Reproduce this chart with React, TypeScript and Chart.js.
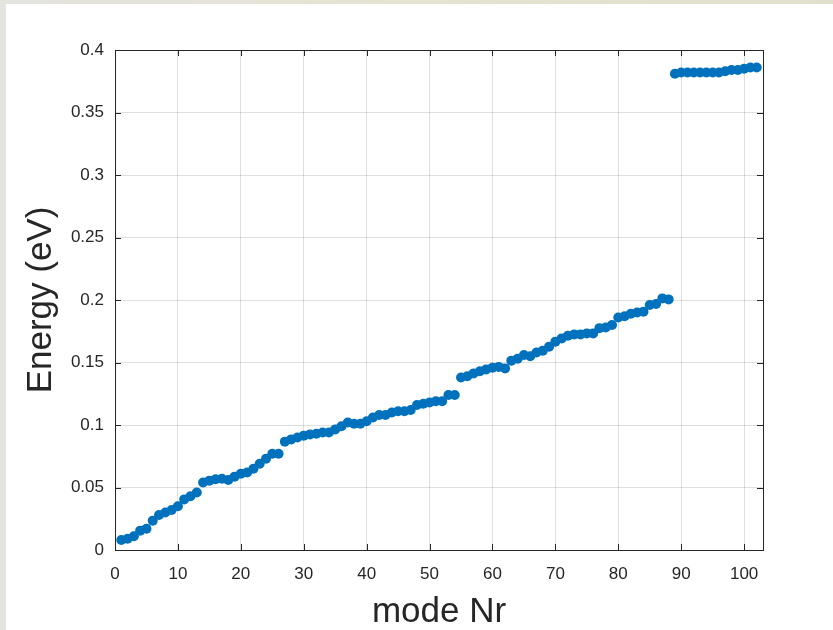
import React, { useEffect, useRef } from "react";
import { Chart, registerables } from "chart.js";

Chart.register(...registerables);

// Energy (eV) of each mode, modes numbered 1..102
const energyEv: number[] = [
  0.008, 0.009, 0.011, 0.0155, 0.017, 0.0235, 0.028, 0.03, 0.032, 0.035,
  0.0405, 0.043, 0.046, 0.054, 0.0555, 0.0566, 0.057, 0.056, 0.0587, 0.061,
  0.062, 0.065, 0.069, 0.073, 0.077, 0.077, 0.0867, 0.0885, 0.09, 0.0915,
  0.0925, 0.093, 0.094, 0.094, 0.0965, 0.099, 0.102, 0.101, 0.101, 0.103,
  0.106, 0.108, 0.108, 0.11, 0.111, 0.111, 0.112, 0.116, 0.117, 0.118,
  0.119, 0.119, 0.124, 0.124, 0.138, 0.139, 0.1413, 0.143, 0.1445, 0.1458,
  0.1465, 0.1453, 0.1515, 0.153, 0.156, 0.155, 0.158, 0.1595, 0.1627, 0.1667,
  0.1693, 0.1715, 0.1725, 0.1725, 0.1733, 0.1733, 0.1775, 0.178, 0.18, 0.186,
  0.187, 0.189, 0.19, 0.1907, 0.196, 0.1968, 0.2013, 0.2005,
  0.381, 0.382, 0.382, 0.382, 0.382, 0.382, 0.382, 0.382, 0.383, 0.384,
  0.384, 0.385, 0.386, 0.386,
];

const xTicks: number[] = [0, 10, 20, 30, 40, 50, 60, 70, 80, 90, 100];
const yTicks: number[] = [0, 0.05, 0.1, 0.15, 0.2, 0.25, 0.3, 0.35, 0.4];
const yTickLabels: string[] = ["0", "0.05", "0.1", "0.15", "0.2", "0.25", "0.3", "0.35", "0.4"];

const FONT = "'Liberation Sans', Arial, Helvetica, sans-serif";
const AXIS_COLOR = "#262626";

const boxPlugin = {
  id: "matlabBox",
  afterDatasetsDraw(chart: any) {
    const { ctx, chartArea, scales } = chart;
    const { left, right, top, bottom } = chartArea;
    const tl = 6;
    ctx.save();
    ctx.strokeStyle = AXIS_COLOR;
    ctx.lineWidth = 1;
    ctx.beginPath();
    for (const v of xTicks) {
      const px = Math.round(scales.x.getPixelForValue(v)) + 0.5;
      ctx.moveTo(px, bottom);
      ctx.lineTo(px, bottom - tl);
      ctx.moveTo(px, top);
      ctx.lineTo(px, top + tl);
    }
    for (const v of yTicks) {
      const py = Math.round(scales.y.getPixelForValue(v)) + 0.5;
      ctx.moveTo(left, py);
      ctx.lineTo(left + tl, py);
      ctx.moveTo(right, py);
      ctx.lineTo(right - tl, py);
    }
    ctx.stroke();
    ctx.strokeRect(Math.round(left) + 0.5, Math.round(top) + 0.5, Math.round(right - left), Math.round(bottom - top));
    ctx.restore();
  },
};

export default function App() {
  const ref = useRef<HTMLCanvasElement | null>(null);

  useEffect(() => {
    if (!ref.current) return;
    const points = energyEv.map((v, i) => ({ x: i + 1, y: v }));
    const chart = new Chart(ref.current, {
      type: "scatter",
      data: {
        datasets: [
          {
            data: points,
            backgroundColor: "#0072BD",
            borderColor: "#0072BD",
            borderWidth: 0,
            pointRadius: 5,
            pointHoverRadius: 5,
          },
        ],
      },
      plugins: [boxPlugin],
      options: {
        animation: false,
        responsive: false,
        devicePixelRatio: 1,
        layout: { padding: { top: 46, right: 70, left: 0, bottom: 0 } },
        plugins: { legend: { display: false }, tooltip: { enabled: false } },
        scales: {
          x: {
            type: "linear",
            min: 0,
            max: 103,
            afterFit: (s: any) => {
              s.height = 80;
            },
            afterBuildTicks: (s: any) => {
              s.ticks = xTicks.map((v) => ({ value: v }));
            },
            grid: { color: "rgba(38,38,38,0.15)", drawTicks: false, lineWidth: 1 },
            border: { display: false },
            ticks: {
              padding: 14,
              color: AXIS_COLOR,
              font: { family: FONT, size: 17 },
              maxRotation: 0,
              callback: (v: any) => String(v),
            },
            title: {
              display: true,
              text: "mode Nr",
              color: AXIS_COLOR,
              font: { family: FONT, size: 35, lineHeight: 1 },
              padding: { top: 0, bottom: 0 },
            },
          },
          y: {
            type: "linear",
            min: 0,
            max: 0.4,
            afterFit: (s: any) => {
              s.width = 109;
            },
            afterBuildTicks: (s: any) => {
              s.ticks = yTicks.map((v) => ({ value: v }));
            },
            grid: { color: "rgba(38,38,38,0.15)", drawTicks: false, lineWidth: 1 },
            border: { display: false },
            ticks: {
              padding: 11,
              color: AXIS_COLOR,
              font: { family: FONT, size: 17 },
              callback: (_v: any, i: number) => yTickLabels[i],
            },
            title: {
              display: true,
              text: "Energy (eV)",
              color: AXIS_COLOR,
              font: { family: FONT, size: 35 },
              padding: { top: 14, bottom: 0 },
            },
          },
        },
      },
    });
    return () => chart.destroy();
  }, []);

  return (
    <div
      style={{
        position: "fixed",
        left: 0,
        top: 0,
        width: 833,
        height: 630,
        background: "linear-gradient(90deg, #e4e4df 0%, #e6e3d2 50%, #e2dfcc 100%)",
        overflow: "hidden",
      }}
    >
      <canvas
        ref={ref}
        width={827}
        height={626}
        style={{ position: "absolute", left: 6, top: 4, width: 827, height: 626, background: "#ffffff", display: "block" }}
      />
    </div>
  );
}
